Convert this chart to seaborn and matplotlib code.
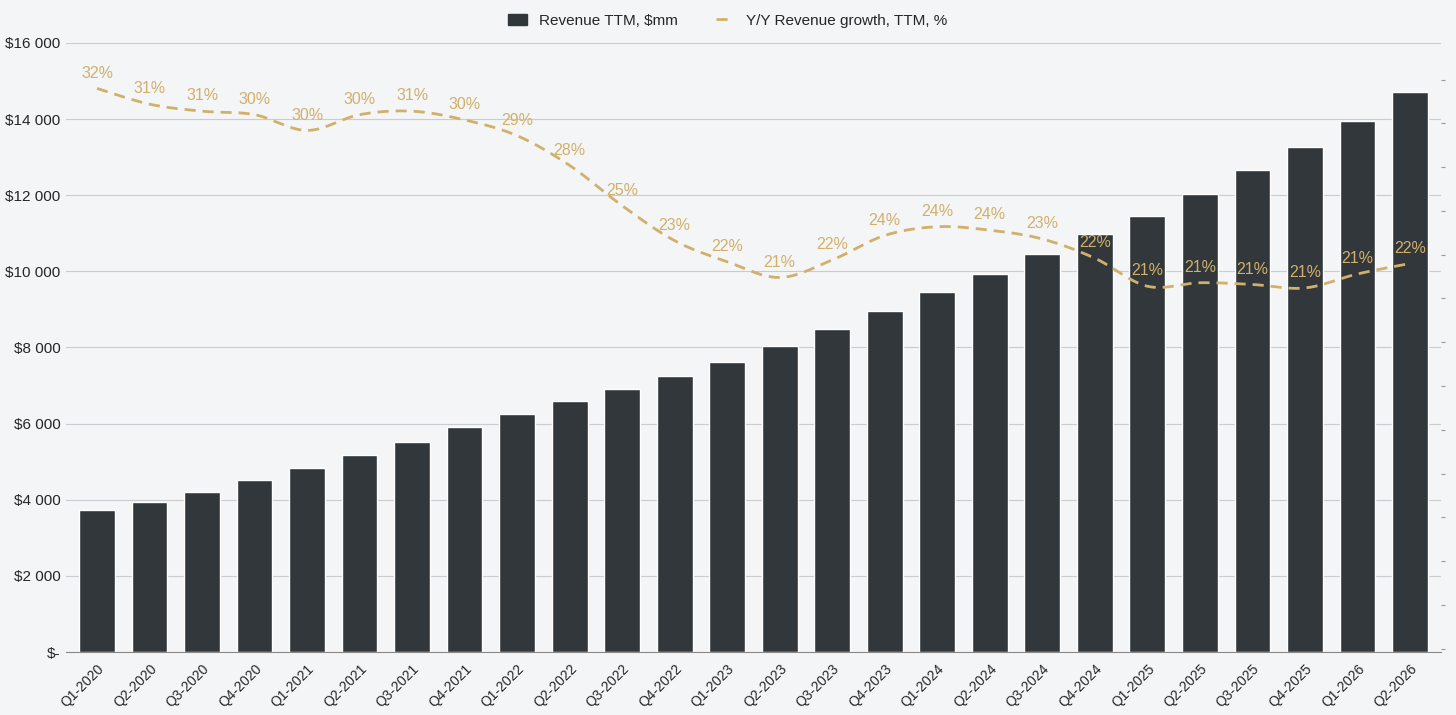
import numpy as np
import pandas as pd
import matplotlib
matplotlib.use("Agg")
import matplotlib.pyplot as plt
import seaborn as sns
from matplotlib.lines import Line2D
from matplotlib.patches import Patch

quarters = [f"Q{q}-{y}" for y in range(2020, 2027) for q in range(1, 5)][:26]
revenue = [3720, 3950, 4210, 4510, 4840, 5170, 5520, 5900, 6260, 6600, 6920, 7240, 7620,
           8030, 8480, 8960, 9460, 9940, 10450, 10970, 11460, 12040, 12670, 13270, 13950, 14710]
growth = [32.0, 31.1, 30.7, 30.5, 29.6, 30.5, 30.7, 30.2, 29.3, 27.6, 25.3, 23.3, 22.1,
          21.2, 22.2, 23.6, 24.1, 23.9, 23.4, 22.3, 20.7, 20.9, 20.8, 20.6, 21.4, 22.0]

BG = "#f3f5f7"
BAR = "#30373b"
GOLD = "#d1b06b"

sns.set_style("white")
plt.rcParams["font.family"] = ["Liberation Sans", "DejaVu Sans"]

df = pd.DataFrame({"quarter": quarters, "revenue": revenue, "growth": growth})

fig, ax = plt.subplots(figsize=(14.56, 7.15), dpi=100)
fig.patch.set_facecolor(BG)
ax.set_facecolor(BG)
sns.barplot(data=df, x="quarter", y="revenue", color=BAR, width=0.68, ax=ax, zorder=2)
ax.set_ylim(0, 16000)
ax.set_yticks(range(0, 16001, 2000))
ax.set_yticklabels(["$-"] + [f"${v:,}".replace(",", " ") for v in range(2000, 16001, 2000)])
ax.yaxis.grid(True, color="#c9ccd0", linewidth=0.8, zorder=0)
ax.set_xlabel("")
ax.set_ylabel("")
ax.set_xlim(-0.6, len(quarters) - 0.4)
plt.setp(ax.get_xticklabels(), rotation=45, ha="right", rotation_mode="anchor", fontsize=10)
ax.tick_params(axis="y", labelsize=11, length=0)
for s in ["top", "right", "left"]:
    ax.spines[s].set_visible(False)
ax.spines["bottom"].set_color("#888888")

# smooth growth curve (Catmull-Rom through the points)
ax2 = ax.twinx()
x = np.arange(len(growth), dtype=float)
y = np.array(growth)
px = np.concatenate([[x[0]], x, [x[-1]]])
py = np.concatenate([[y[0]], y, [y[-1]]])
sx, sy = [], []
t = np.linspace(0, 1, 20, endpoint=False)
for i in range(1, len(px) - 2):
    for arr, out in ((px, sx), (py, sy)):
        p0, p1, p2, p3 = arr[i - 1], arr[i], arr[i + 1], arr[i + 2]
        out.extend(0.5 * (2 * p1 + (-p0 + p2) * t + (2 * p0 - 5 * p1 + 4 * p2 - p3) * t**2
                          + (-p0 + 3 * p1 - 3 * p2 + p3) * t**3))
sx.append(x[-1]); sy.append(y[-1])
ax2.plot(sx, sy, color=GOLD, linestyle=(0, (4, 2.5)), linewidth=2, zorder=3)
for xi, yi in zip(x, y):
    ax2.text(xi, yi + 0.45, f"{round(yi):.0f}%", color=GOLD, fontsize=11.5,
             ha="center", va="bottom", zorder=4)
ax2.set_ylim(-0.2, 34.6)
ax2.set_yticks(np.arange(0, 35, 2.5))
ax2.set_yticklabels([])
ax2.tick_params(axis="y", length=3, color="#999999")
for s in ["top", "right", "left", "bottom"]:
    ax2.spines[s].set_visible(False)

handles = [Patch(color=BAR, label="Revenue TTM, $mm"),
           Line2D([0], [0], color=GOLD, linestyle=(0, (4, 2.5)), linewidth=2,
                  label="Y/Y Revenue growth, TTM, %")]
fig.legend(handles=handles, loc="upper center", ncol=2, frameon=False, fontsize=11,
           bbox_to_anchor=(0.5, 1.0), handlelength=1.2, columnspacing=2.5)

fig.subplots_adjust(left=0.045, right=0.99, top=0.94, bottom=0.088)
fig.savefig("out.png", dpi=100, facecolor=BG)
